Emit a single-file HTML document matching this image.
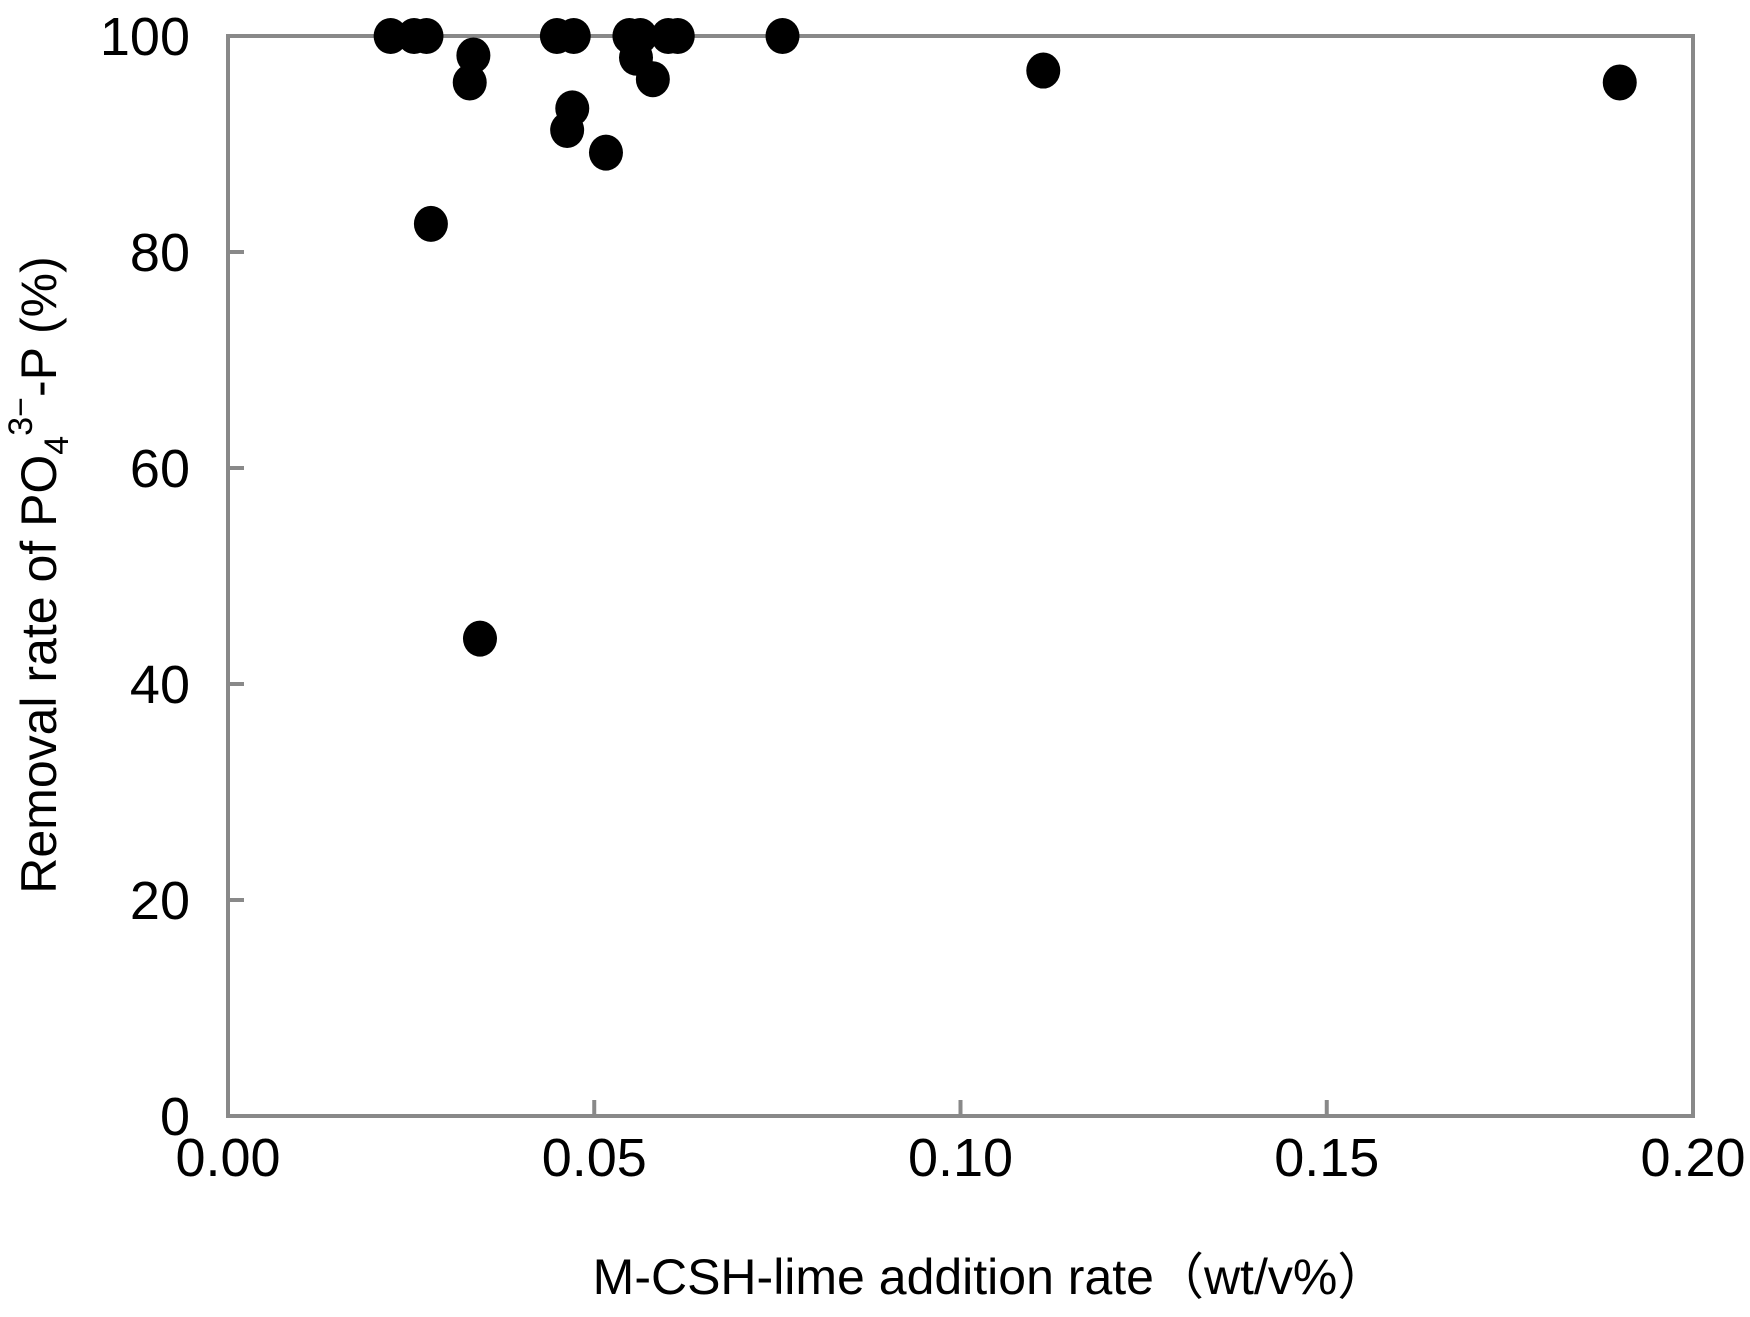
<!DOCTYPE html>
<html><head><meta charset="utf-8"><style>
html,body{margin:0;padding:0;background:#fff;}
svg{display:block;font-family:"Liberation Sans","Noto Sans CJK JP",sans-serif;}
</style></head><body>
<svg id="chart" width="1750" height="1317" viewBox="0 0 1750 1317">
<g id="grid"></g>
<rect x="228" y="36" width="1465" height="1080" fill="none" stroke="#898989" stroke-width="4"/>
<g id="ticks"></g>
<g id="points"></g>
<text x="990" y="1294" font-size="50" text-anchor="middle" fill="#000">M-CSH-lime addition rate（wt/v%）</text>
<text transform="translate(56,575) rotate(-90)" font-size="50" text-anchor="middle" fill="#000">Removal rate of PO<tspan font-size="34" dy="12">4</tspan><tspan font-size="34" dy="-36">3−</tspan><tspan dy="24">-P (%)</tspan></text>
</svg>
<script>
const xVals=[0.0222,0.0254,0.0271,0.0277,0.0330,0.0335,0.0344,0.0449,0.0472,0.0463,0.0470,0.0516,0.0548,0.0563,0.0557,0.0580,0.0601,0.0614,0.0757,0.1113,0.1900];
const yVals=[100,100,100,82.6,95.7,98.2,44.2,100,100,91.3,93.3,89.2,100,100,98.0,96.0,100,100,100,96.8,95.7];
const xTicks=["0.00","0.05","0.10","0.15","0.20"];
const yTicks=["0","20","40","60","80","100"];
const L=228,R=1693,T=36,B=1116,XMAX=0.2,YMAX=100;
const NS="http://www.w3.org/2000/svg";
function xs(v){return L+(v/XMAX)*(R-L);}
function ys(v){return B-(v/YMAX)*(B-T);}
const tk=document.getElementById('ticks');
xTicks.forEach(t=>{
  const v=parseFloat(t);
  const l=document.createElementNS(NS,'line');
  l.setAttribute('x1',xs(v));l.setAttribute('x2',xs(v));l.setAttribute('y1',B);l.setAttribute('y2',B-16);
  l.setAttribute('stroke','#898989');l.setAttribute('stroke-width','4');
  
  
  tk.appendChild(l);
  const tx=document.createElementNS(NS,'text');
  tx.setAttribute('x',xs(v));tx.setAttribute('y',B+60);tx.setAttribute('font-size','54');tx.setAttribute('text-anchor','middle');
  tx.textContent=t;
  
  
  tk.appendChild(tx);
});
yTicks.forEach(t=>{
  const v=parseFloat(t);
  const l=document.createElementNS(NS,'line');
  l.setAttribute('x1',L);l.setAttribute('x2',L+16);l.setAttribute('y1',ys(v));l.setAttribute('y2',ys(v));
  l.setAttribute('stroke','#898989');l.setAttribute('stroke-width','4');
  
  
  tk.appendChild(l);
  const tx=document.createElementNS(NS,'text');
  tx.setAttribute('x',190);tx.setAttribute('y',ys(v)+19);tx.setAttribute('font-size','54');tx.setAttribute('text-anchor','end');
  tx.textContent=t;
  
  
  tk.appendChild(tx);
});
const pg=document.getElementById('points');
xVals.forEach((x,i)=>{
  const c=document.createElementNS(NS,'ellipse');
  c.setAttribute('cx',xs(x));c.setAttribute('cy',ys(yVals[i]));c.setAttribute('rx',17);c.setAttribute('ry',18);c.setAttribute('fill','#000');
  
  
  pg.appendChild(c);
});
</script>
</body></html>
